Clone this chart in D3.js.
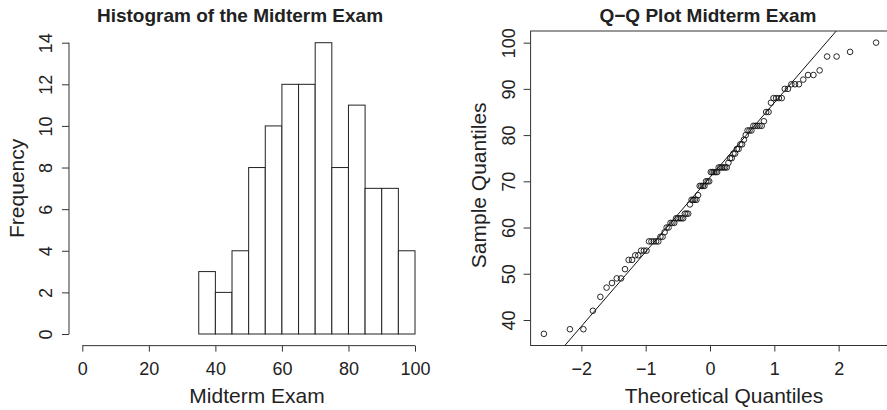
<!DOCTYPE html>
<html><head><meta charset="utf-8">
<script src="https://cdn.jsdelivr.net/npm/d3@7/dist/d3.min.js"></script>
<style>
html,body{margin:0;padding:0;background:#fff;}
svg text{font-family:"Liberation Sans",Arial,Helvetica,sans-serif;fill:#222;}
</style></head>
<body>
<svg id="c" width="887" height="410"></svg>
<script>
// ---- data ----
const histTitle = "Histogram of the Midterm Exam";
const qqTitle = "Q\u2212Q Plot Midterm Exam";
const binEdges = [35,40,45,50,55,60,65,70,75,80,85,90,95,100];
const binCounts = [3,2,4,8,10,12,12,14,8,11,7,7,4];
const histXTicks = [0,20,40,60,80,100];
const histYTicks = [0,2,4,6,8,10,12,14];
const midterm = [37,38,38,42,45,47,48,49,49,51,53,53,54,54,55,55,55,
  57,57,57,57,57,58,58,59,60,60,
  61,61,61,62,62,62,62,62,63,63,63,65,
  66,66,66,66,67,69,69,69,69,70,70,70,
  72,72,72,72,72,73,73,73,73,73,73,74,75,75,
  76,76,77,77,78,78,79,80,
  81,81,81,82,82,82,82,82,83,85,85,
  87,88,88,88,88,90,90,
  91,91,91,92,93,93,94,
  97,97,98,100];
const qqXTicks = [-2,-1,0,1,2];
const qqYTicks = [40,50,60,70,80,90,100];

// ---- helpers ----
function qnorm(p){
  const a=[-3.969683028665376e+01,2.209460984245205e+02,-2.759285104469687e+02,1.383577518672690e+02,-3.066479806614716e+01,2.506628277459239e+00];
  const b=[-5.447609879822406e+01,1.615858368580409e+02,-1.556989798598866e+02,6.680131188771972e+01,-1.328068155288572e+01];
  const c=[-7.784894002430293e-03,-3.223964580411365e-01,-2.400758277161838e+00,-2.549732539343734e+00,4.374664141464968e+00,2.938163982698783e+00];
  const d=[7.784695709041462e-03,3.224671290700398e-01,2.445134137142996e+00,3.754408661907416e+00];
  const pl=0.02425;let q,r;
  if(p<pl){q=Math.sqrt(-2*Math.log(p));return (((((c[0]*q+c[1])*q+c[2])*q+c[3])*q+c[4])*q+c[5])/((((d[0]*q+d[1])*q+d[2])*q+d[3])*q+1);}
  if(p<=1-pl){q=p-0.5;r=q*q;return (((((a[0]*r+a[1])*r+a[2])*r+a[3])*r+a[4])*r+a[5])*q/(((((b[0]*r+b[1])*r+b[2])*r+b[3])*r+b[4])*r+1);}
  q=Math.sqrt(-2*Math.log(1-p));return -(((((c[0]*q+c[1])*q+c[2])*q+c[3])*q+c[4])*q+c[5])/((((d[0]*q+d[1])*q+d[2])*q+d[3])*q+1);
}
const svg = d3.select("#c");
const LC = "#333";
const tickFont = 18, labFont = 21, titleFont = 19;

// ================= Histogram =================
{
  const x = d3.scaleLinear().domain([0,100]).range([82.3,415]);
  const y = d3.scaleLinear().domain([0,14]).range([334,42.7]);
  const g = svg.append("g");
  const bins = binCounts.map((c,i)=>({x0:binEdges[i],x1:binEdges[i+1],n:c}));
  g.selectAll("rect.bar").data(bins).join("rect")
    .attr("x",d=>x(d.x0)).attr("y",d=>y(d.n))
    .attr("width",d=>x(d.x1)-x(d.x0)).attr("height",d=>y(0)-y(d.n))
    .attr("fill","#fff").attr("stroke","#222").attr("stroke-width",1);
  // x axis
  const xAxisY = y(-0.56);
  const xa = g.append("g").attr("transform",`translate(0,${xAxisY})`)
    .call(d3.axisBottom(x).tickValues(histXTicks).tickSize(6).tickPadding(7).tickSizeOuter(0));
  xa.select(".domain").attr("stroke",LC).attr("d",`M${x(0)},0H${x(100)}`);
  xa.selectAll(".tick line").attr("stroke",LC);
  xa.selectAll("text").attr("font-size",tickFont).attr("fill","#222").attr("font-family","Liberation Sans, Arial, sans-serif")
    .attr("dy",null).attr("y",29);
  // y axis
  const yAxisX = x(-4);
  const ya = g.append("g").attr("transform",`translate(${yAxisX},0)`)
    .call(d3.axisLeft(y).tickValues(histYTicks).tickSize(7).tickSizeOuter(0));
  ya.select(".domain").attr("stroke",LC).attr("d",`M0,${y(0)}V${y(14)}`);
  ya.selectAll(".tick line").attr("stroke",LC);
  ya.selectAll(".tick text").attr("font-size",tickFont).attr("fill","#222").attr("font-family","Liberation Sans, Arial, sans-serif")
    .attr("x",null).attr("dy",null).attr("text-anchor","middle")
    .attr("transform","translate(-17,0) rotate(-90)");
  // labels
  g.append("text").attr("x",240).attr("y",22).attr("text-anchor","middle")
    .attr("font-size",titleFont).attr("font-weight","bold").text(histTitle);
  g.append("text").attr("x",257).attr("y",403).attr("text-anchor","middle")
    .attr("font-size",labFont).text("Midterm Exam");
  g.append("text").attr("transform",`translate(24,${(y(0)+y(14))/2}) rotate(-90)`).attr("text-anchor","middle")
    .attr("font-size",labFont).text("Frequency");
}

// ================= Q-Q plot =================
{
  const n = midterm.length;
  const sorted = midterm.slice().sort((a,b)=>a-b);
  const pts = sorted.map((v,i)=>({q:qnorm((i+1-0.5)/n), v:v}));
  const qmin = d3.min(pts,d=>d.q), qmax = d3.max(pts,d=>d.q);
  const vmin = d3.min(sorted), vmax = d3.max(sorted);
  const qpad = (qmax-qmin)*0.04, vpad = (vmax-vmin)*0.04;
  const left=530.6, right=889.4, top=31.0, bottom=345.5;
  const x = d3.scaleLinear().domain([qmin-qpad,qmax+qpad]).range([left,right]);
  const y = d3.scaleLinear().domain([vmin-vpad,vmax+vpad]).range([bottom,top]);
  const g = svg.append("g");
  g.append("defs").append("clipPath").attr("id","qqclip").append("rect")
    .attr("x",left).attr("y",top).attr("width",right-left).attr("height",bottom-top);
  // qqline through quartiles
  const q1 = d3.quantile(sorted,0.25), q3 = d3.quantile(sorted,0.75);
  const z1 = qnorm(0.25), z3 = qnorm(0.75);
  const slope = (q3-q1)/(z3-z1), intc = q1 - slope*z1;
  const xd = x.domain();
  g.append("line").attr("clip-path","url(#qqclip)")
    .attr("x1",x(xd[0])).attr("y1",y(intc+slope*xd[0]))
    .attr("x2",x(xd[1])).attr("y2",y(intc+slope*xd[1]))
    .attr("stroke","#111").attr("stroke-width",1);
  g.selectAll("circle").data(pts).join("circle")
    .attr("cx",d=>x(d.q)).attr("cy",d=>y(d.v)).attr("r",2.8)
    .attr("fill","none").attr("stroke","#111").attr("stroke-width",0.9);
  // box
  g.append("rect").attr("x",left).attr("y",top).attr("width",right-left).attr("height",bottom-top)
    .attr("fill","none").attr("stroke",LC).attr("stroke-width",1);
  // axes
  const xa = g.append("g").attr("transform",`translate(0,${bottom})`)
    .call(d3.axisBottom(x).tickValues(qqXTicks).tickSize(6).tickSizeOuter(0)
      .tickFormat(d=>d<0?"\u2212"+Math.abs(d):String(d)));
  xa.select(".domain").remove();
  xa.selectAll(".tick line").attr("stroke",LC);
  xa.selectAll("text").attr("font-size",tickFont).attr("fill","#222").attr("font-family","Liberation Sans, Arial, sans-serif")
    .attr("dy",null).attr("y",29.5);
  const ya = g.append("g").attr("transform",`translate(${left},0)`)
    .call(d3.axisLeft(y).tickValues(qqYTicks).tickSize(7).tickSizeOuter(0));
  ya.select(".domain").remove();
  ya.selectAll(".tick line").attr("stroke",LC);
  ya.selectAll(".tick text").attr("font-size",tickFont).attr("fill","#222").attr("font-family","Liberation Sans, Arial, sans-serif")
    .attr("x",null).attr("dy",null).attr("text-anchor","middle")
    .attr("transform","translate(-16,0) rotate(-90)");
  g.append("text").attr("x",708).attr("y",22).attr("text-anchor","middle")
    .attr("font-size",titleFont).attr("font-weight","bold").text(qqTitle);
  g.append("text").attr("x",724).attr("y",403).attr("text-anchor","middle")
    .attr("font-size",labFont).text("Theoretical Quantiles");
  g.append("text").attr("transform",`translate(486,${(y(40)+y(100))/2 + 4}) rotate(-90)`).attr("text-anchor","middle")
    .attr("font-size",labFont).text("Sample Quantiles");
}
</script>
</body></html>
